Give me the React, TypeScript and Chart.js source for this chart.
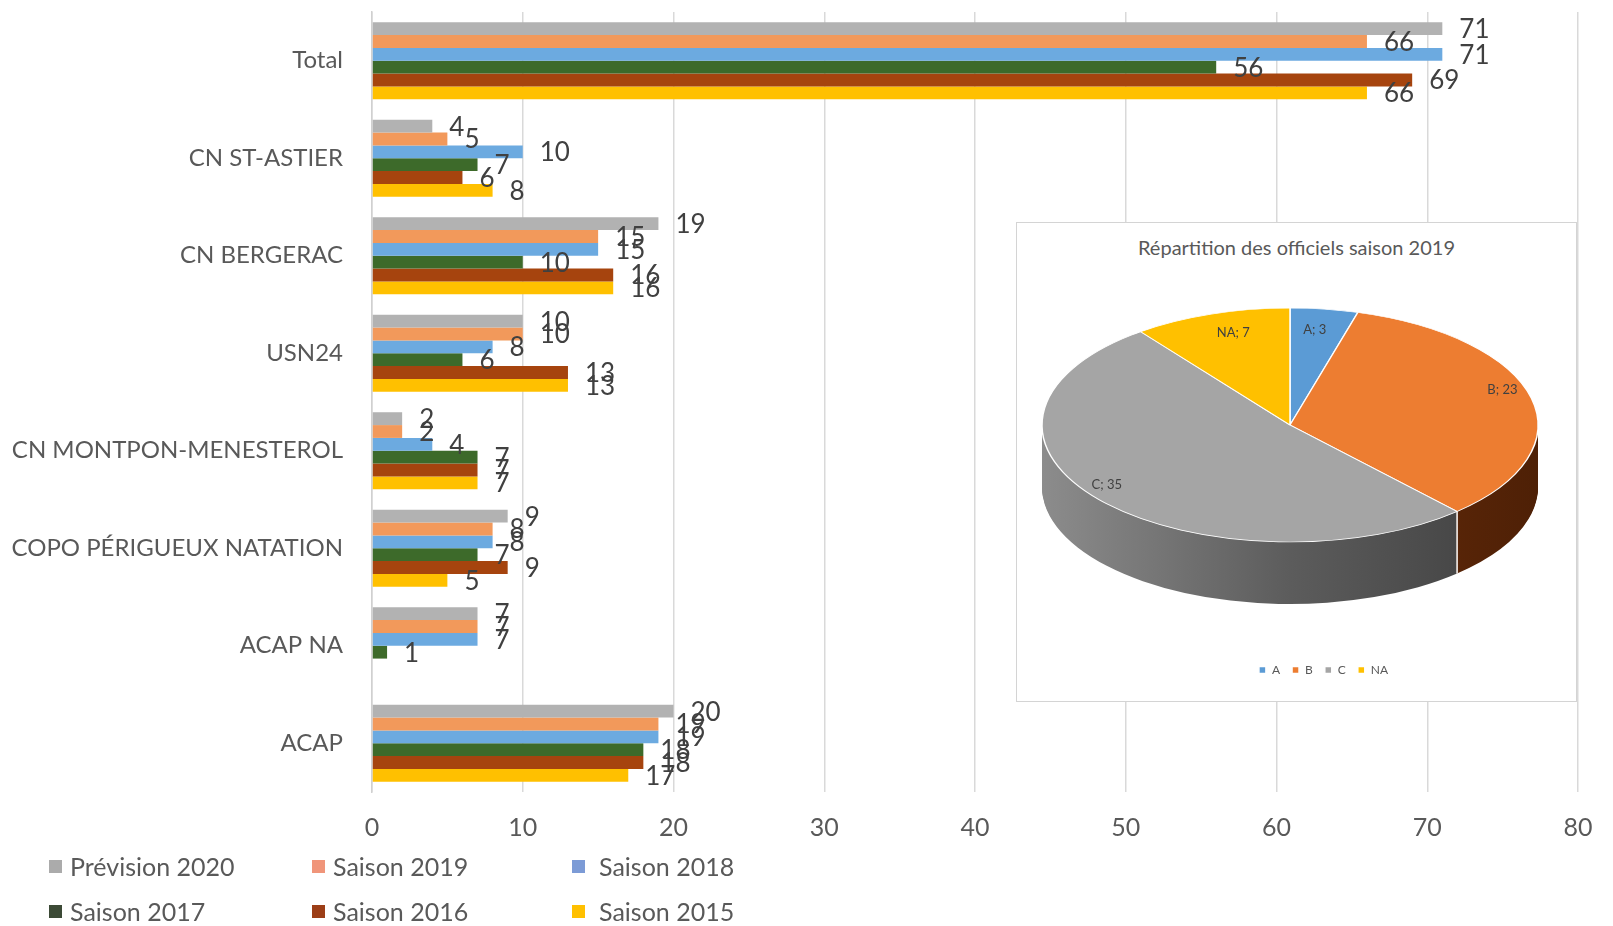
import React, { useEffect, useRef } from "react";
import { Chart, registerables } from "chart.js";

Chart.register(...registerables);

// ---------- data ----------
const categories = [
  "Total",
  "CN ST-ASTIER",
  "CN BERGERAC",
  "USN24",
  "CN MONTPON-MENESTEROL",
  "COPO PÉRIGUEUX NATATION",
  "ACAP NA",
  "ACAP",
];
const seriesNames = [
  "Prévision 2020",
  "Saison 2019",
  "Saison 2018",
  "Saison 2017",
  "Saison 2016",
  "Saison 2015",
];
const prevision2020 = [71, 4, 19, 10, 2, 9, 7, 20];
const saison2019 = [66, 5, 15, 10, 2, 8, 7, 19];
const saison2018 = [71, 10, 15, 8, 4, 8, 7, 19];
const saison2017 = [56, 7, 10, 6, 7, 7, 1, 18];
const saison2016 = [69, 6, 16, 13, 7, 9, null, 18];
const saison2015 = [66, 8, 16, 13, 7, 5, null, 17];
const xTickMin = 0;
const xTickMax = 80;
const xTickStep = 10;

const pieTitle = "Répartition des officiels saison 2019";
const pieLabels = ["A", "B", "C", "NA"];
const pieValues = [3, 23, 35, 7];

// ---------- styles ----------
const FONT = "Lato, 'Open Sans', sans-serif";
const TEXT = "#595959";
const seriesColors = ["#B2B2B2", "#F2995B", "#6CAAE0", "#3D6A2A", "#A6440E", "#FFC000"];
const legendBoxColors = ["#ABABAB", "#F0957A", "#7C9BD6", "#3C4A36", "#9C3E17", "#FFC000"];
const pieColors = ["#5B9BD5", "#ED7D31", "#A5A5A5", "#FFC000"];
const pieLabelRadius = [0.72, 0.88, 0.96, 0.72];

// pie geometry (canvas-relative)
const BOX_LEFT = 1016;
const BOX_TOP = 222;
const BOX_W = 561;
const BOX_H = 480;
const PIE_CX = 1289 - BOX_LEFT;
const PIE_CY = 424 - BOX_TOP;
const PIE_R = 248;
const PIE_RY = 117;
const PIE_K = PIE_RY / PIE_R;
const PIE_DEPTH = 62;

const barValueLabels = {
  id: "barValueLabels",
  afterDatasetsDraw(chart: any) {
    const ctx = chart.ctx;
    ctx.save();
    ctx.font = `26px ${FONT}`;
    ctx.fillStyle = "#404040";
    ctx.textAlign = "left";
    ctx.textBaseline = "middle";
    chart.data.datasets.forEach((ds: any, di: number) => {
      const meta = chart.getDatasetMeta(di);
      meta.data.forEach((bar: any, i: number) => {
        const v = ds.data[i];
        if (v === null || v === undefined) return;
        ctx.fillText(String(v), bar.x + 17, bar.y + 1);
      });
    });
    ctx.restore();
  },
};

function shade(ctx: any, ax: number, r: number, c1: string, c2: string, c3: string) {
  const g = ctx.createLinearGradient(ax - r, 0, ax + r, 0);
  g.addColorStop(0, c1);
  g.addColorStop(0.5, c2);
  g.addColorStop(1, c3);
  return g;
}

const pie3d = {
  id: "pie3d",
  beforeDatasetsDraw(chart: any) {
    const ctx = chart.ctx;
    const arcs = chart.getDatasetMeta(0).data;
    if (!arcs.length) return;
    const ax = arcs[0].x;
    const ay = arcs[0].y;
    const sideFills = [
      shade(ctx, ax, PIE_R, "#2f5f8c", "#2a5680", "#23486b"),
      shade(ctx, ax, PIE_R, "#7a3510", "#6a2d0a", "#4e2006"),
      shade(ctx, ax, PIE_R, "#8c8c8c", "#5c5c5c", "#3e3e3e"),
      shade(ctx, ax, PIE_R, "#a07800", "#8a6800", "#705500"),
    ];
    for (let i = PIE_DEPTH; i >= 1; i--) {
      ctx.save();
      ctx.translate(PIE_CX, PIE_CY + i);
      ctx.scale(1, PIE_K);
      ctx.translate(-ax, -ay);
      arcs.forEach((a: any, idx: number) => {
        const p = a.getProps(["startAngle", "endAngle", "outerRadius"], true);
        ctx.beginPath();
        ctx.moveTo(ax, ay);
        ctx.arc(ax, ay, p.outerRadius, p.startAngle, p.endAngle);
        ctx.closePath();
        ctx.fillStyle = sideFills[idx];
        ctx.fill();
      });
      ctx.restore();
    }
    // seams on the side
    ctx.save();
    ctx.strokeStyle = "#ffffff";
    ctx.lineWidth = 1.5;
    arcs.forEach((a: any) => {
      const p = a.getProps(["startAngle", "outerRadius"], true);
      const s = Math.sin(p.startAngle);
      if (s <= 0) return;
      const x = PIE_CX + p.outerRadius * Math.cos(p.startAngle);
      const y = PIE_CY + PIE_K * p.outerRadius * s;
      ctx.beginPath();
      ctx.moveTo(x, y);
      ctx.lineTo(x, y + PIE_DEPTH);
      ctx.stroke();
    });
    ctx.restore();
    ctx.save();
    ctx.translate(PIE_CX, PIE_CY);
    ctx.scale(1, PIE_K);
    ctx.translate(-ax, -ay);
  },
  afterDatasetsDraw(chart: any) {
    const ctx = chart.ctx;
    const arcs = chart.getDatasetMeta(0).data;
    if (!arcs.length) return;
    ctx.restore();
    ctx.save();
    ctx.font = `13px ${FONT}`;
    ctx.fillStyle = "#404040";
    ctx.textAlign = "center";
    ctx.textBaseline = "middle";
    const ds = chart.data.datasets[0];
    arcs.forEach((a: any, idx: number) => {
      const p = a.getProps(["startAngle", "endAngle", "outerRadius"], true);
      const mid = (p.startAngle + p.endAngle) / 2;
      const f = pieLabelRadius[idx];
      const x = PIE_CX + p.outerRadius * f * Math.cos(mid);
      const y = PIE_CY - 12 + PIE_K * p.outerRadius * f * Math.sin(mid);
      ctx.fillText(`${chart.data.labels[idx]}; ${ds.data[idx]}`, x, y);
    });
    ctx.restore();
  },
};

export default function App() {
  const barRef = useRef<HTMLCanvasElement | null>(null);
  const pieRef = useRef<HTMLCanvasElement | null>(null);

  useEffect(() => {
    const seriesData = [prevision2020, saison2019, saison2018, saison2017, saison2016, saison2015];
    const bar = new Chart(barRef.current as HTMLCanvasElement, {
      type: "bar",
      data: {
        labels: categories,
        datasets: seriesNames.map((name, i) => ({
          label: name,
          data: seriesData[i],
          backgroundColor: seriesColors[i],
          borderWidth: 0,
          categoryPercentage: 0.79,
          barPercentage: 1.0,
        })),
      },
      options: {
        indexAxis: "y",
        animation: false,
        responsive: true,
        maintainAspectRatio: false,
        layout: { padding: { top: 12, right: 35, left: 0, bottom: 0 } },
        plugins: { legend: { display: false }, tooltip: { enabled: false } },
        scales: {
          x: {
            min: xTickMin,
            max: xTickMax,
            ticks: {
              stepSize: xTickStep,
              font: { family: FONT, size: 25 },
              color: TEXT,
              padding: 21,
            },
            grid: { color: "#D9D9D9", lineWidth: 1.5, drawTicks: false },
            border: { display: false },
            afterFit: (s: any) => {
              s.height = 926 - 792;
              s.paddingLeft = 0;
              s.paddingRight = 0;
            },
          },
          y: {
            ticks: {
              font: { family: FONT, size: 24 },
              color: TEXT,
              padding: 29,
            },
            grid: { display: false, drawTicks: false },
            border: { display: true, color: "#D0D0D0", width: 1.5 },
            afterFit: (s: any) => {
              s.width = 372;
              s.paddingTop = 0;
              s.paddingBottom = 0;
            },
          },
        },
      },
      plugins: [barValueLabels],
    } as any);

    const pie = new Chart(pieRef.current as HTMLCanvasElement, {
      type: "pie",
      data: {
        labels: pieLabels,
        datasets: [
          {
            data: pieValues,
            backgroundColor: pieColors,
            borderColor: "#ffffff",
            borderWidth: 1.5,
            radius: PIE_R,
            clip: false,
          } as any,
        ],
      },
      options: {
        animation: false,
        responsive: true,
        maintainAspectRatio: false,
        layout: { padding: { left: 55, right: 0, top: 0, bottom: 14 } },
        plugins: {
          tooltip: { enabled: false },
          title: { display: false },
          legend: {
            display: true,
            position: "bottom",
            labels: {
              boxWidth: 7,
              boxHeight: 7,
              padding: 12,
              color: TEXT,
              font: { family: FONT, size: 12 },
            },
          },
        },
      },
      plugins: [pie3d],
    } as any);

    return () => {
      bar.destroy();
      pie.destroy();
    };
  }, []);

  const legendCols = [49, 312, 572];
  const legendRows = [866, 911];

  return (
    <div
      style={{
        position: "absolute",
        left: 0,
        top: 0,
        width: 1613,
        height: 926,
        overflow: "hidden",
        background: "#ffffff",
        fontFamily: FONT,
      }}
    >
      <div style={{ position: "absolute", left: 0, top: 0, width: 1613, height: 926 }}>
        <canvas ref={barRef} />
      </div>
      {seriesNames.map((name, i) => (
        <div
          key={name}
          style={{
            position: "absolute",
            left: legendCols[i % 3],
            top: legendRows[Math.floor(i / 3)] - 16,
            height: 32,
            display: "flex",
            alignItems: "center",
            fontSize: 25,
            color: TEXT,
            whiteSpace: "nowrap",
          }}
        >
          <span
            style={{
              display: "inline-block",
              width: 13,
              height: 13,
              background: legendBoxColors[i],
              marginRight: i === 2 || i === 5 ? 14 : 8,
            }}
          />
          <span>{name}</span>
        </div>
      ))}
      <div
        style={{
          position: "absolute",
          left: BOX_LEFT,
          top: BOX_TOP,
          width: BOX_W,
          height: BOX_H,
          boxSizing: "border-box",
          border: "1.5px solid #D4D4D4",
          background: "#ffffff",
        }}
      >
        <div
          style={{
            position: "absolute",
            left: 0,
            right: 0,
            top: 12,
            textAlign: "center",
            fontSize: 20,
            color: TEXT,
            whiteSpace: "nowrap",
          }}
        >
          {pieTitle}
        </div>
        <div style={{ position: "absolute", left: 0, top: 0, width: BOX_W - 3, height: BOX_H - 3 }}>
          <canvas ref={pieRef} />
        </div>
      </div>
    </div>
  );
}
